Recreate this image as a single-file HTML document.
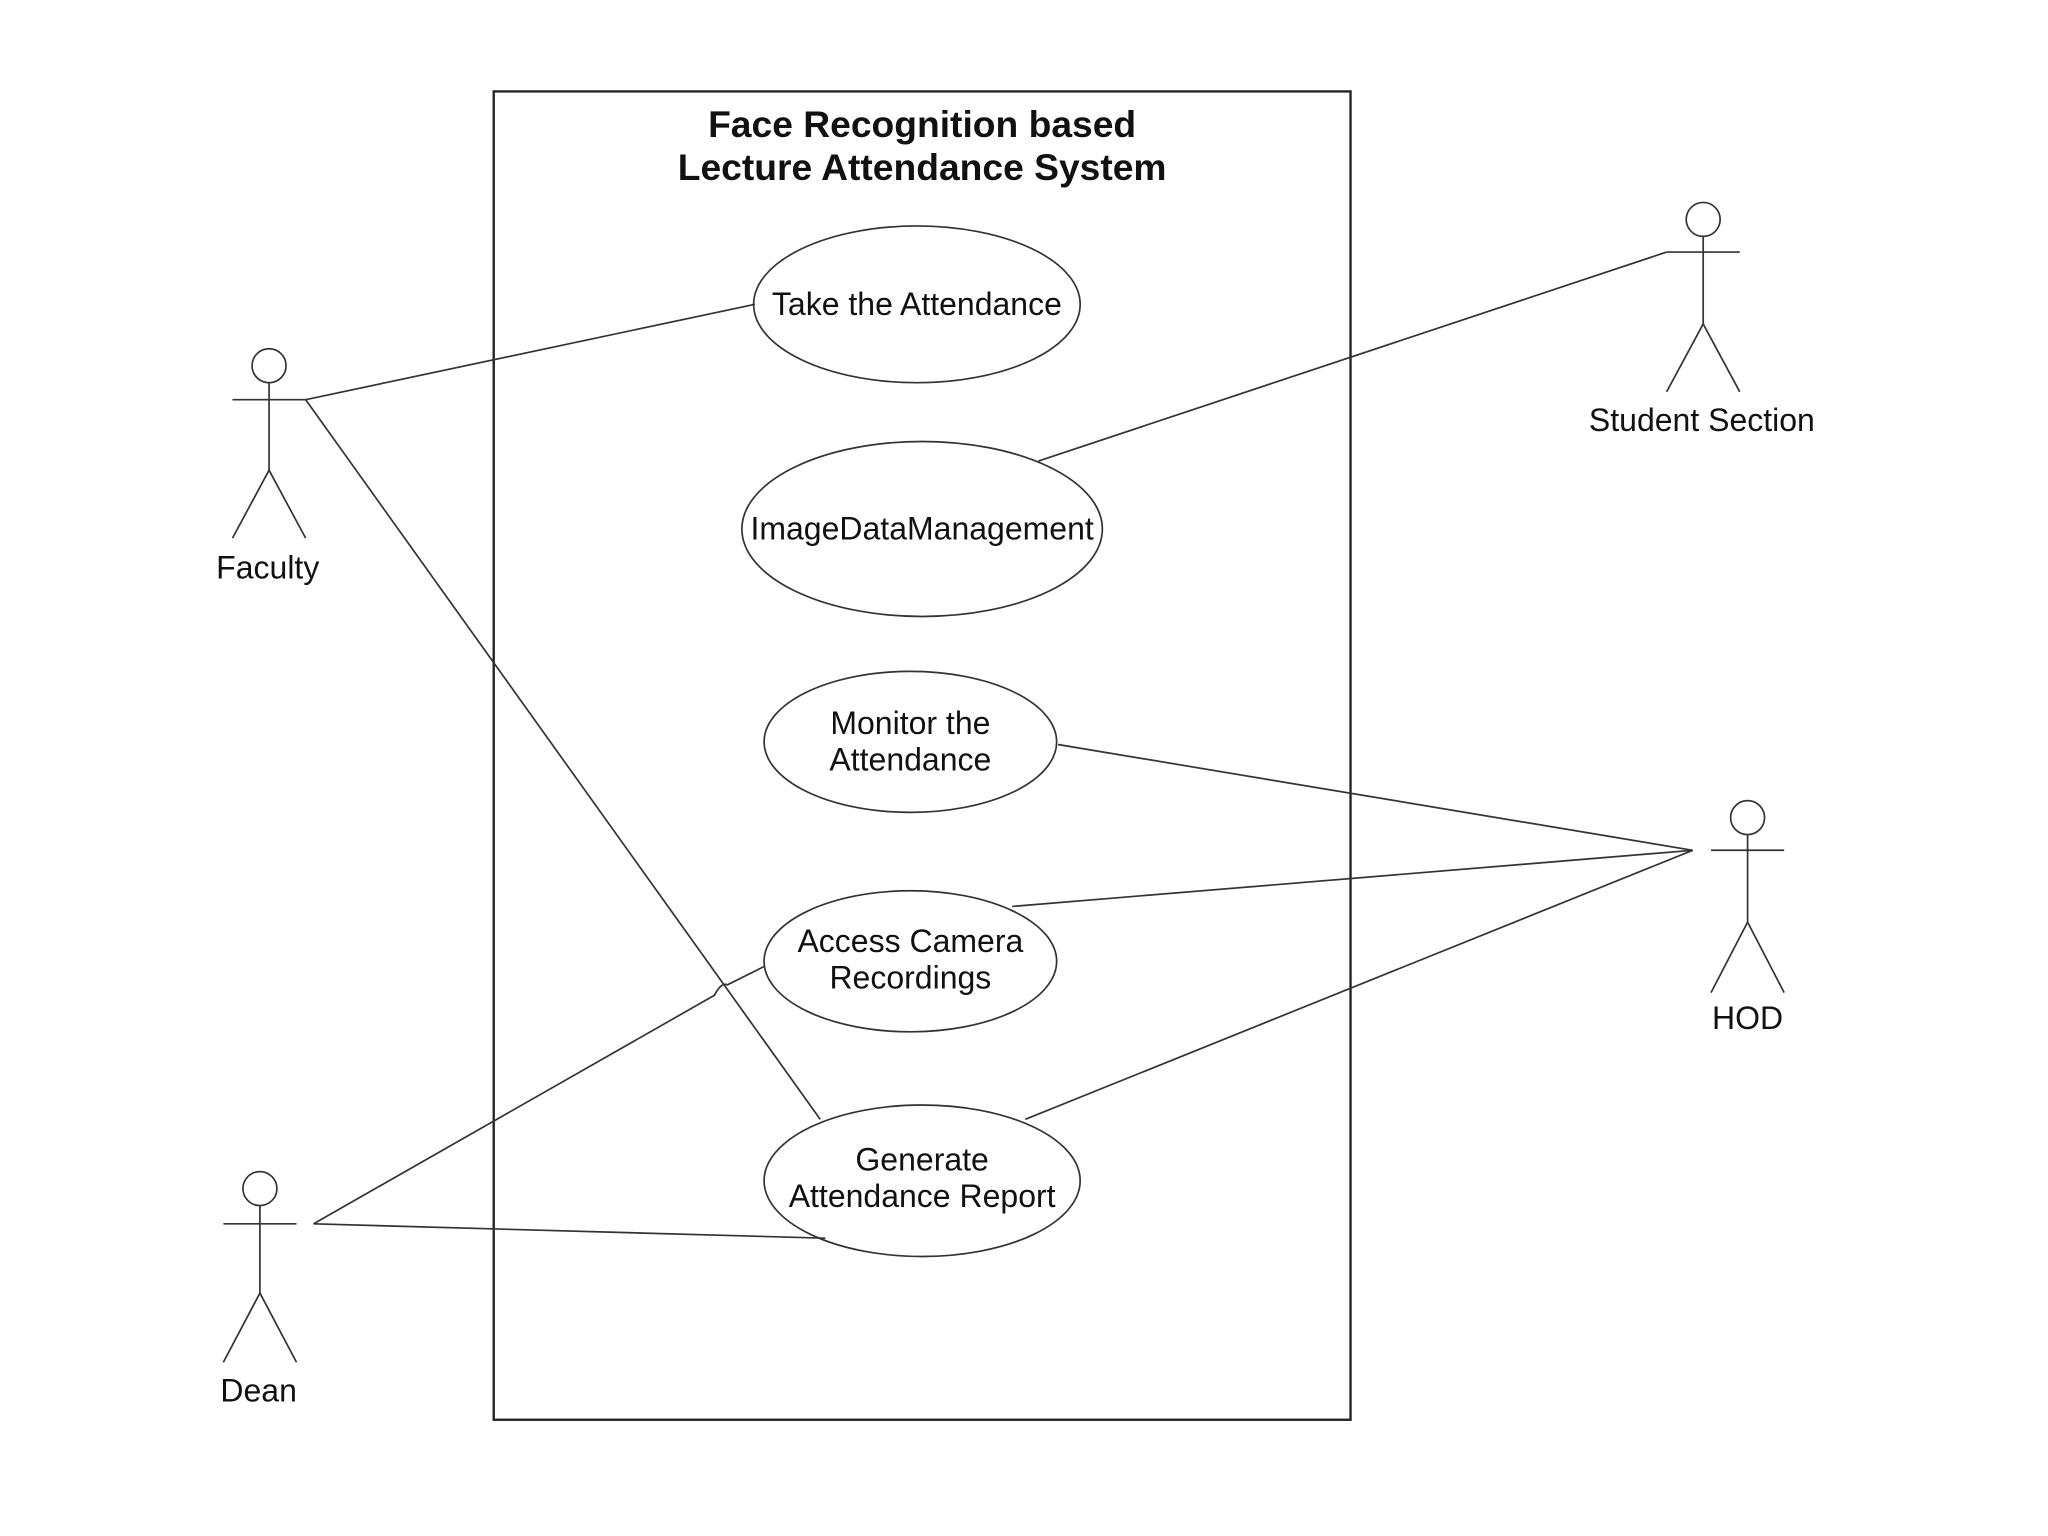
<!DOCTYPE html>
<html><head><style>html,body{margin:0;padding:0;background:#fff}svg{display:block}</style></head>
<body>
<svg width="2048" height="1536" viewBox="0 0 1568 1176" xmlns="http://www.w3.org/2000/svg" font-family="Liberation Sans, sans-serif">
<rect width="1568" height="1176" fill="#fff"/>
<g fill="none" stroke="#333" stroke-width="1.3">
<rect x="378" y="70" width="656" height="1017" stroke-width="1.8" stroke="#222"/>
<ellipse cx="702" cy="233" rx="125" ry="60"/>
<ellipse cx="706" cy="405" rx="138" ry="67"/>
<ellipse cx="697" cy="568" rx="112" ry="54"/>
<ellipse cx="697" cy="736" rx="112" ry="54"/>
<ellipse cx="706" cy="904" rx="121" ry="58"/>
<circle cx="206" cy="280" r="13"/><line x1="206" y1="293" x2="206" y2="360"/><line x1="178" y1="306" x2="234" y2="306"/><line x1="206" y1="360" x2="178" y2="412"/><line x1="206" y1="360" x2="234" y2="412"/>
<circle cx="1304" cy="168" r="13"/><line x1="1304" y1="181" x2="1304" y2="248"/><line x1="1276" y1="193" x2="1332" y2="193"/><line x1="1304" y1="248" x2="1276" y2="300"/><line x1="1304" y1="248" x2="1332" y2="300"/>
<circle cx="1338" cy="626" r="13"/><line x1="1338" y1="639" x2="1338" y2="706"/><line x1="1310" y1="651" x2="1366" y2="651"/><line x1="1338" y1="706" x2="1310" y2="760"/><line x1="1338" y1="706" x2="1366" y2="760"/>
<circle cx="199" cy="910" r="13"/><line x1="199" y1="923" x2="199" y2="990"/><line x1="171" y1="937" x2="227" y2="937"/><line x1="199" y1="990" x2="171" y2="1043"/><line x1="199" y1="990" x2="227" y2="1043"/>
<line x1="234" y1="306" x2="578" y2="233"/>
<line x1="234" y1="306" x2="628" y2="857"/>
<line x1="1276" y1="193" x2="795" y2="353"/>
<line x1="1296" y1="651" x2="810" y2="570"/>
<line x1="1296" y1="651" x2="775" y2="694"/>
<line x1="1296" y1="651" x2="785" y2="857"/>
<path d="M240 937 L547 762 Q552 752 557 754 L585 740"/>
<line x1="240" y1="937" x2="632" y2="948"/>
</g>
<g fill="#111" font-size="24.5" text-anchor="middle">
<text x="706" y="105" font-weight="bold" font-size="28.5">Face Recognition based</text>
<text x="706" y="138" font-weight="bold" font-size="28.5">Lecture Attendance System</text>
<text x="702" y="241">Take the Attendance</text>
<text x="706" y="413">ImageDataManagement</text>
<text x="697" y="562">Monitor the</text>
<text x="697" y="590">Attendance</text>
<text x="697" y="729">Access Camera</text>
<text x="697" y="757">Recordings</text>
<text x="706" y="896">Generate</text>
<text x="706" y="924">Attendance Report</text>
<text x="205" y="443">Faculty</text>
<text x="1303" y="330">Student Section</text>
<text x="1338" y="788">HOD</text>
<text x="198" y="1073">Dean</text>
</g>
</svg>
</body></html>
